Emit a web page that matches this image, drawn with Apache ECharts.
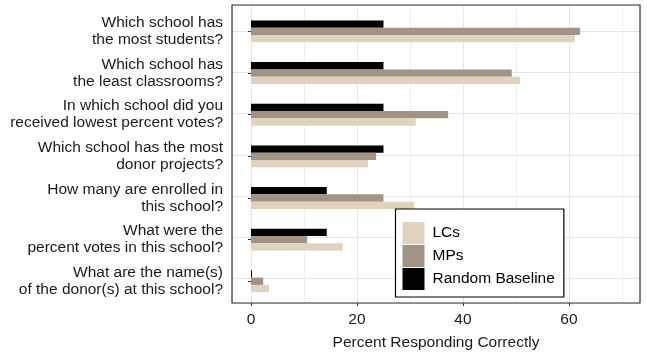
<!DOCTYPE html>
<html>
<head>
<meta charset="utf-8">
<script src="https://cdn.jsdelivr.net/npm/echarts@6/dist/echarts.min.js"></script>
<style>
html,body{margin:0;padding:0;background:#fff;}
#chart{width:647px;height:356px;}
</style>
</head>
<body>
<div id="chart"></div>
<script>
var categories = [
  "Which school has\nthe most students?",
  "Which school has\nthe least classrooms?",
  "In which school did you\nreceived lowest percent votes?",
  "Which school has the most\ndonor projects?",
  "How many are enrolled in\nthis school?",
  "What were the\npercent votes in this school?",
  "What are the name(s)\nof the donor(s) at this school?"
];
var lcs = [61.1, 50.8, 31.1, 22.1, 30.8, 17.3, 3.4];
var mps = [62.1, 49.2, 37.2, 23.6, 25.0, 10.6, 2.3];
var baseline = [25.0, 25.0, 25.0, 25.0, 14.3, 14.3, 0.2];
var xTitle = "Percent Responding Correctly";

var FONT = "'Liberation Sans', Arial, sans-serif";
var TXT = '#1a1a1a';
var XMIN = -3.58, XMAX = 73.4;

var chart = echarts.init(document.getElementById('chart'), null, {renderer: 'canvas'});
chart.setOption({
  animation: false,
  backgroundColor: '#ffffff',
  textStyle: {fontFamily: FONT},
  grid: [
    {left: 232, right: 7, top: 10.6, bottom: 53.9, show: false},
    {left: 232, right: 7, top: 5, bottom: 49.3, show: true, borderColor: '#333333', borderWidth: 1.2, backgroundColor: 'transparent', z: 10}
  ],
  xAxis: [
    {gridIndex: 0, type: 'value', min: XMIN, max: XMAX, show: false},
    {gridIndex: 1, type: 'value', min: XMIN, max: XMAX, splitNumber: 4, minInterval: 20, maxInterval: 20,
     name: xTitle, nameLocation: 'middle', nameGap: 32,
     nameTextStyle: {fontSize: 15.5, color: TXT, fontFamily: FONT},
     axisLine: {show: false},
     axisTick: {show: true, length: 3, lineStyle: {color: '#333333', width: 1}},
     axisLabel: {fontSize: 15.5, color: TXT, fontFamily: FONT, margin: 9, showMinLabel: false, showMaxLabel: false},
     splitLine: {show: true, lineStyle: {color: '#e6e6e6', width: 1}},
     minorTick: {show: false, splitNumber: 2},
     minorSplitLine: {show: true, lineStyle: {color: '#eeeeee', width: 1}}
    }
  ],
  yAxis: [
    {gridIndex: 0, type: 'category', data: categories, inverse: true,
     axisLine: {show: false},
     axisTick: {show: true, alignWithLabel: true, length: 3, lineStyle: {color: '#333333', width: 1}},
     axisLabel: {fontSize: 15.5, color: TXT, fontFamily: FONT, margin: 9, lineHeight: 17, align: 'right'},
     splitLine: {show: false}
    },
    {gridIndex: 1, type: 'value', min: 0.36, max: 7.6, inverse: true, splitNumber: 7, minInterval: 1, maxInterval: 1,
     axisLine: {show: false}, axisTick: {show: false}, axisLabel: {show: false},
     splitLine: {show: true, lineStyle: {color: '#e6e6e6', width: 1}}
    }
  ],
  legend: {
    show: true,
    orient: 'vertical',
    left: 395.5, top: 209,
    width: 170,
    padding: [13, 9, 7, 7],
    backgroundColor: '#ffffff',
    borderColor: '#000000', borderWidth: 1.2, borderRadius: 0,
    itemWidth: 22, itemHeight: 22, itemGap: 1,
    icon: 'rect',
    data: ['LCs', 'MPs', 'Random Baseline'],
    textStyle: {fontSize: 15.5, color: '#000000', fontFamily: FONT, padding: [0, 0, 0, 3]},
    selectedMode: false
  },
  series: [
    {name: 'Random Baseline', type: 'bar', xAxisIndex: 0, yAxisIndex: 0, data: baseline,
     barWidth: 7.3, barGap: '0%', itemStyle: {color: '#000000'}, z: 3},
    {name: 'MPs', type: 'bar', xAxisIndex: 0, yAxisIndex: 0, data: mps,
     barWidth: 7.3, barGap: '0%', itemStyle: {color: '#a39384'}, z: 3},
    {name: 'LCs', type: 'bar', xAxisIndex: 0, yAxisIndex: 0, data: lcs,
     barWidth: 7.3, barGap: '0%', itemStyle: {color: '#e1d2be'}, z: 3}
  ]
});
</script>
</body>
</html>
